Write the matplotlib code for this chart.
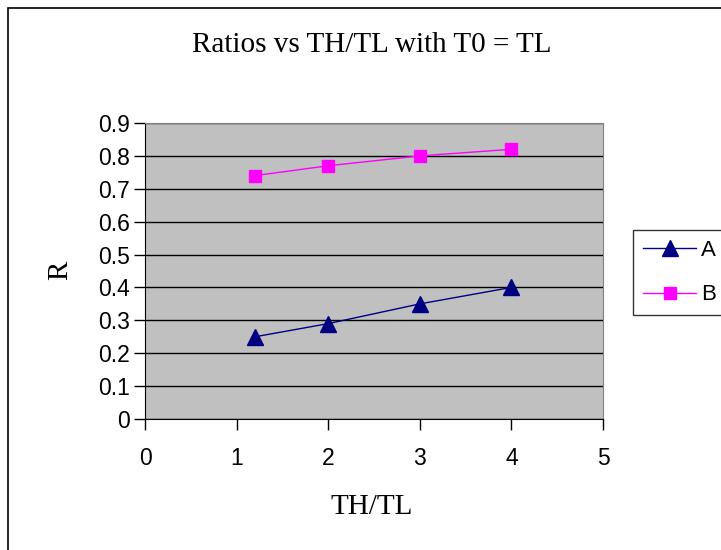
import matplotlib.pyplot as plt
from matplotlib.patches import Rectangle

# dados
x_vals = [1.2, 2, 3, 4]
ratio_A = [0.25, 0.29, 0.35, 0.40]
ratio_B = [0.74, 0.77, 0.80, 0.82]
x_ticks = [0, 1, 2, 3, 4, 5]
y_ticks = [0, 0.1, 0.2, 0.3, 0.4, 0.5, 0.6, 0.7, 0.8, 0.9]

fig = plt.figure(figsize=(7.21, 5.5), dpi=100)
fig.patch.set_facecolor('white')

# moldura externa
fig.patches.append(Rectangle((8/721, -0.1), 2.0, (550-8)/550 + 0.1, transform=fig.transFigure,
                             fill=False, edgecolor='black', linewidth=1.2))

ax = fig.add_axes([145/721, 1-419/550, (603-145)/721, (419-123)/550])
ax.set_facecolor('#c0c0c0')

ax.plot(x_vals, ratio_A, color='#000080', linewidth=1, marker='^', markersize=11, label='A')
ax.plot(x_vals, ratio_B, color='#ff00ff', linewidth=1, marker='s', markersize=9, label='B')

ax.set_xlim(0, 5)
ax.set_ylim(0, 0.9)
ax.set_xticks(x_ticks)
ax.set_yticks(y_ticks)
ax.set_xticklabels([str(t) for t in x_ticks])
ax.set_yticklabels(['0'] + ['%.1f' % t for t in y_ticks[1:]])
ax.yaxis.grid(True, color='black', linewidth=1)
ax.set_axisbelow(True)
ax.tick_params(axis='both', direction='out', length=8, width=1, labelsize=16.5,
               colors='black')
ax.tick_params(axis='x', pad=12)
ax.tick_params(axis='y', pad=3)
for lbl in ax.get_xticklabels() + ax.get_yticklabels():
    lbl.set_fontfamily('Liberation Sans')

ax.spines['left'].set_color('black')
ax.spines['bottom'].set_color('black')
ax.spines['top'].set_color('#808080')
ax.spines['right'].set_color('#808080')

fig.text(372/721, 1-45/550, 'Ratios vs TH/TL with T0 = TL', ha='center', va='center',
         fontsize=21, family='Liberation Serif')
fig.text(372/721, 1-507/550, 'TH/TL', ha='center', va='center',
         fontsize=21, family='Liberation Serif')
fig.text(60/721, 1-270/550, 'R', ha='center', va='center', rotation=90,
         fontsize=21, family='Liberation Serif')

leg = ax.legend(loc='upper left', bbox_to_anchor=(633/721, 1-230/550),
                bbox_transform=fig.transFigure, frameon=True, fancybox=False,
                edgecolor='black', borderaxespad=0, handlelength=2.4,
                labelspacing=1.05, prop={'family': 'Liberation Sans', 'size': 16},
                borderpad=0.45, handletextpad=0.2)
leg.get_frame().set_linewidth(1)

fig.savefig('out.png', dpi=100)
